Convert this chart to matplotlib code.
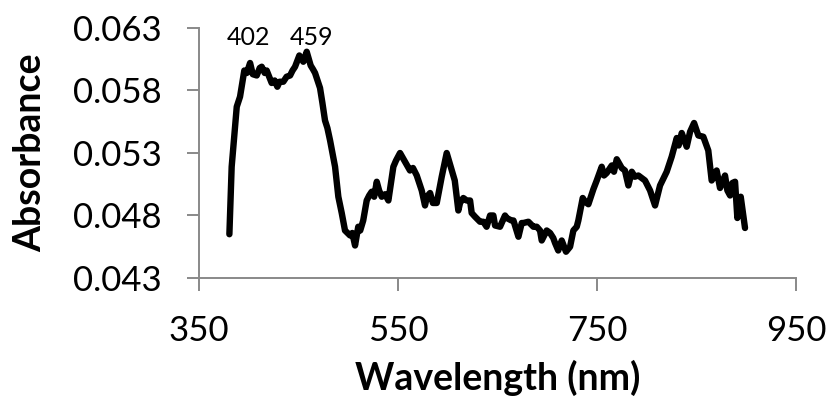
import matplotlib
matplotlib.use("Agg")
import matplotlib.pyplot as plt

# values
wavelength = [380.5, 382.8, 385, 387.9, 391.2, 395.5, 398, 401.3, 404, 408, 411, 413, 416, 418,
              423, 426, 428.7, 431, 434.7, 438, 441.5, 444, 446.5, 450.8, 454.8, 458.2, 460,
              462.2, 464.5, 466.6, 471.6, 474, 476.6, 479, 481.7, 486.7, 490, 493.4, 496.7,
              501.8, 504, 506.8, 510, 512, 515, 518.5, 521, 523.5, 526, 528.6, 531, 533.6, 537,
              540.3, 545.3, 548, 552, 557, 562, 565, 568.8, 573.8, 577.1, 579, 582.2, 585,
              588.9, 593.9, 598.9, 604, 607, 610.6, 612.3, 615.6, 619, 622.4, 624, 627.4,
              632.4, 635.7, 639, 642.5, 645.8, 647.5, 652.5, 657.5, 659.2, 664, 666, 671,
              674.3, 676, 681, 686, 689.4, 692.7, 694.4, 699.4, 702.8, 706, 707.8, 711, 714.5,
              718.8, 722.9, 726.2, 729.6, 731.2, 735.6, 738, 741.3, 746.3, 749.7, 754.7, 757,
              759.7, 764.8, 767, 769.8, 774.8, 778, 781.5, 784.9, 788, 791.5, 798.2, 803.3,
              808.3, 813.3, 820, 825, 830.1, 832, 835.1, 840.1, 843.5, 847.5, 851.8, 856.8,
              861.8, 865.2, 868, 870.2, 873.6, 878.6, 881, 883.7, 886, 888.7, 891, 894.4, 898.7]
absorbance = [0.0465, 0.0519, 0.0540, 0.0567, 0.0575, 0.0596, 0.0594, 0.0602, 0.0593, 0.0592,
              0.0598, 0.0599, 0.0594, 0.0596, 0.0586, 0.0588, 0.0583, 0.0587, 0.0587, 0.0591,
              0.0592, 0.0596, 0.0599, 0.0608, 0.0603, 0.0611, 0.0606, 0.0600, 0.0597, 0.0594,
              0.0582, 0.0570, 0.0556, 0.0550, 0.0540, 0.0519, 0.0495, 0.0482, 0.0468, 0.0464,
              0.0466, 0.0456, 0.0471, 0.0468, 0.0476, 0.0492, 0.0496, 0.0499, 0.0495, 0.0507,
              0.0500, 0.0495, 0.0497, 0.0492, 0.0519, 0.0524, 0.0530, 0.0523, 0.0516, 0.0518,
              0.0512, 0.0500, 0.0488, 0.0495, 0.0498, 0.0490, 0.0490, 0.0511, 0.0530, 0.0516,
              0.0508, 0.0484, 0.0490, 0.0494, 0.0492, 0.0492, 0.0482, 0.0479, 0.0475, 0.0475,
              0.0471, 0.0480, 0.0480, 0.0472, 0.0471, 0.0480, 0.0478, 0.0476, 0.0476, 0.0463,
              0.0474, 0.0474, 0.0475, 0.0471, 0.0471, 0.0468, 0.0460, 0.0468, 0.0466, 0.0462,
              0.0458, 0.0452, 0.0460, 0.0451, 0.0455, 0.0468, 0.0471, 0.0476, 0.0494, 0.0491,
              0.0489, 0.0501, 0.0508, 0.0519, 0.0512, 0.0514, 0.0520, 0.0515, 0.0525, 0.0518,
              0.0516, 0.0504, 0.0515, 0.0511, 0.0512, 0.0508, 0.0500, 0.0488, 0.0504, 0.0515,
              0.0527, 0.0542, 0.0536, 0.0546, 0.0535, 0.0547, 0.0554, 0.0544, 0.0543, 0.0532,
              0.0508, 0.0512, 0.0516, 0.0502, 0.0512, 0.0500, 0.0496, 0.0506, 0.0507, 0.0478,
              0.0495, 0.0470]

peak_labels = ["402", "459"]
x_ticks = [350, 550, 750, 950]
y_ticks = [0.043, 0.048, 0.053, 0.058, 0.063]

plt.rcParams["font.family"] = ["Lato", "DejaVu Sans"]
grey = "#898989"

fig = plt.figure(figsize=(8.3, 4.05), dpi=100)
ax = fig.add_axes([0.2398, 0.3136, 0.7193, 0.6173])
ax.plot(wavelength, absorbance, color="black", lw=4.6,
        solid_capstyle="round", solid_joinstyle="round")

ax.set_xlim(350, 950)
ax.set_ylim(0.043, 0.063)
ax.set_xticks(x_ticks)
ax.set_yticks(y_ticks)
ax.set_yticklabels(["%.3f" % v for v in y_ticks])

for s in ["top", "right"]:
    ax.spines[s].set_visible(False)
for s in ["left", "bottom"]:
    ax.spines[s].set_color(grey)
    ax.spines[s].set_linewidth(1.4)
ax.tick_params(axis="both", direction="out", length=9, width=1.4, color=grey,
               labelsize=25, pad=18)

# peak annotations
ax.text(400, 0.0616, peak_labels[0], fontsize=18, ha="center", va="baseline")
ax.text(463, 0.0616, peak_labels[1], fontsize=18, ha="center", va="baseline")

ax.set_xlabel("Wavelength (nm)", fontsize=27, fontweight="bold", labelpad=9)
ax.set_ylabel("Absorbance", fontsize=27, fontweight="bold", labelpad=18)

fig.savefig("out.png", dpi=100)
